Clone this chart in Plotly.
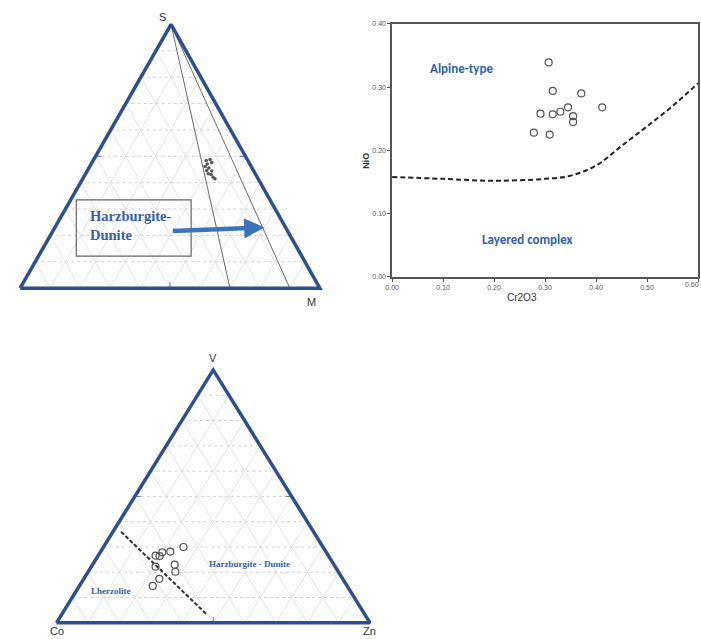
import plotly.graph_objects as go

# ---------------- data ----------------
# S-M ternary: percentages of the S (top) and M (right) components
sm_s = [48.4, 48.8, 47.7, 47.1, 46.1, 45.6, 44.6, 44.4, 43.1, 42.1, 41.5, 43.4]
sm_m = [37.7, 38.8, 39.9, 38.7, 38.5, 40.0, 39.8, 41.6, 42.0, 43.2, 44.1, 40.9]
# reference lines from the S apex to the base (M share of the base)
sm_lines_m = [70, 90]

# NiO vs Cr2O3
cr2o3 = [0.307, 0.315, 0.371, 0.345, 0.412, 0.330, 0.315, 0.291, 0.355, 0.355, 0.278, 0.309]
nio = [0.339, 0.294, 0.290, 0.268, 0.268, 0.261, 0.257, 0.258, 0.254, 0.245, 0.228, 0.225]
# Alpine-type / Layered complex boundary
bound_x = [0.00, 0.10, 0.20, 0.30, 0.35, 0.40, 0.45, 0.50, 0.55, 0.60]
bound_y = [0.158, 0.155, 0.152, 0.155, 0.160, 0.176, 0.207, 0.238, 0.270, 0.306]
x_ticks = [0.0, 0.1, 0.2, 0.3, 0.4, 0.5, 0.6]
y_ticks = [0.0, 0.1, 0.2, 0.3, 0.4]

# Co-V-Zn ternary: V (top) and Zn (right) fractions
cvz_v = [0.300, 0.282, 0.279, 0.266, 0.264, 0.230, 0.222, 0.202, 0.174, 0.146]
cvz_zn = [0.255, 0.222, 0.198, 0.183, 0.197, 0.262, 0.205, 0.278, 0.241, 0.234]
# Lherzolite / Harzburgite-Dunite divide (V, Zn)
div_v = [0.36, 0.035]
div_zn = [0.026, 0.46]

# ---------------- helpers ----------------
TRI_BLUE = "#2f4f8a"
GRID = "#cfcfcf"

# page-pixel frames of the two triangles: (left, right, top) vertices
TRI_SM = ((13.3, 287.3), (316.0, 287.3), (165.7, 20.7))
TRI_CVZ = ((50.0, 625.7), (366.7, 625.7), (208.3, 370.0))


def tern(tri, right, top):
    """Ternary (right, top) fractions -> page coordinates."""
    (ax_, ay_), (bx, by), (cx, cy) = tri
    left = [1 - r - t for r, t in zip(right, top)]
    xs = [l * ax_ + r * bx + t * cx for l, r, t in zip(left, right, top)]
    ys = [l * ay_ + r * by + t * cy for l, r, t in zip(left, right, top)]
    return xs, ys


fig = go.Figure()


def add_triangle(tri):
    # grid at 10 % steps
    for i in range(1, 10):
        f = i / 10
        # constant top fraction (dotted)
        xs, ys = tern(tri, [0, 1 - f], [f, f])
        fig.add_trace(go.Scatter(x=xs, y=ys, mode="lines",
                                 line=dict(color=GRID, width=1, dash="dot"),
                                 hoverinfo="skip", showlegend=False))
        # constant right fraction
        xs, ys = tern(tri, [f, f], [0, 1 - f])
        fig.add_trace(go.Scatter(x=xs, y=ys, mode="lines",
                                 line=dict(color="#dcdcdc", width=0.8),
                                 hoverinfo="skip", showlegend=False))
        # constant left fraction
        xs, ys = tern(tri, [1 - f, 0], [0, 1 - f])
        fig.add_trace(go.Scatter(x=xs, y=ys, mode="lines",
                                 line=dict(color="#dcdcdc", width=0.8),
                                 hoverinfo="skip", showlegend=False))
    # mid-side ticks
    for r, t in [(0.0, 0.5), (0.5, 0.5), (0.5, 0.0)]:
        xs, ys = tern(tri, [r], [t])
        x0, y0 = xs[0], ys[0]
        if t == 0.0:
            seg = ([x0, x0], [y0, y0 - 6])
        elif r == 0.0:
            seg = ([x0, x0 + 6], [y0, y0])
        else:
            seg = ([x0, x0 - 6], [y0, y0])
        fig.add_trace(go.Scatter(x=seg[0], y=seg[1], mode="lines",
                                 line=dict(color="#5a6f95", width=1),
                                 hoverinfo="skip", showlegend=False))


def add_outline(tri):
    xs, ys = tern(tri, [0, 1, 0, 0], [0, 0, 1, 0])
    fig.add_trace(go.Scatter(x=xs, y=ys, mode="lines",
                             line=dict(color=TRI_BLUE, width=3.5),
                             hoverinfo="skip", showlegend=False))


# ---------------- S-M triangle ----------------
add_triangle(TRI_SM)
for m in sm_lines_m:
    xs, ys = tern(TRI_SM, [0, m / 100], [1, 0])
    fig.add_trace(go.Scatter(x=xs, y=ys, mode="lines",
                             line=dict(color="#6b6b6b", width=1),
                             hoverinfo="skip", showlegend=False))
add_outline(TRI_SM)
xs, ys = tern(TRI_SM, [m / 100 for m in sm_m], [s / 100 for s in sm_s])
fig.add_trace(go.Scatter(x=xs, y=ys, mode="markers",
                         marker=dict(size=3.5, color="#555555"),
                         showlegend=False))

# ---------------- Co-V-Zn triangle ----------------
add_triangle(TRI_CVZ)
add_outline(TRI_CVZ)
xs, ys = tern(TRI_CVZ, div_zn, div_v)
fig.add_trace(go.Scatter(x=xs, y=ys, mode="lines",
                         line=dict(color="#333333", width=2, dash="4px,2px"),
                         hoverinfo="skip", showlegend=False))
xs, ys = tern(TRI_CVZ, cvz_zn, cvz_v)
fig.add_trace(go.Scatter(x=xs, y=ys, mode="markers",
                         marker=dict(size=7, color="rgba(0,0,0,0)",
                                     line=dict(color="#555555", width=1.2)),
                         showlegend=False))

# ---------------- NiO vs Cr2O3 ----------------
fig.add_trace(go.Scatter(x=bound_x, y=bound_y, mode="lines", xaxis="x2", yaxis="y2",
                         line=dict(color="#222222", width=2, dash="5px,3px", shape="spline"),
                         hoverinfo="skip", showlegend=False))
fig.add_trace(go.Scatter(x=cr2o3, y=nio, mode="markers", xaxis="x2", yaxis="y2",
                         marker=dict(size=7, color="rgba(0,0,0,0)",
                                     line=dict(color="#555555", width=1.2)),
                         showlegend=False))

W, H = 701, 639
sx0, sx1, sy0, sy1 = 389, 698, 20, 276

tick_font = dict(family="Liberation Sans Narrow, Liberation Sans, Arial",
                 size=7, color="#555555")
ax_common = dict(showgrid=False, zeroline=False, showline=True, mirror=True,
                 linecolor="#555555", linewidth=1.5, ticks="outside", ticklen=3,
                 tickcolor="#555555", tickfont=tick_font)

fig.update_layout(
    width=W, height=H,
    margin=dict(l=0, r=0, t=0, b=0),
    paper_bgcolor="white", plot_bgcolor="rgba(0,0,0,0)",
    xaxis=dict(domain=[0, 1], range=[0, W], visible=False, fixedrange=True),
    yaxis=dict(domain=[0, 1], range=[H, 0], visible=False, fixedrange=True),
    xaxis2=dict(domain=[sx0 / W, sx1 / W], range=[0, 0.6], anchor="y2",
                tickvals=x_ticks, ticktext=[f"{v:.2f}" for v in x_ticks], **ax_common),
    yaxis2=dict(domain=[1 - sy1 / H, 1 - sy0 / H], range=[0, 0.4], anchor="x2",
                tickvals=y_ticks, ticktext=[f"{v:.2f}" for v in y_ticks], **ax_common),
)

sans = "Liberation Sans, Arial, sans-serif"
serif = "Liberation Serif, Times New Roman, serif"
label_blue = "#3461a8"

annotations = [
    # vertex labels
    dict(x=157, y=13, text="S", font=dict(family=sans, size=11, color="#333")),
    dict(x=308, y=301, text="M", font=dict(family=sans, size=11, color="#333")),
    dict(x=208, y=358, text="V", font=dict(family=sans, size=11, color="#333")),
    dict(x=50, y=634, text="Co", font=dict(family=sans, size=11, color="#333")),
    dict(x=366, y=634, text="Zn", font=dict(family=sans, size=11, color="#333")),
    # region labels
    dict(x=82, y=224, text="<b>Harzburgite-<br>Dunite</b>", xanchor="left", align="left",
         font=dict(family=serif, size=14.5, color=label_blue)),
    dict(x=105, y=593, text="<b>Lherzolite</b>",
         font=dict(family=serif, size=9, color=label_blue)),
    dict(x=245, y=566, text="<b>Harzburgite - Dunite</b>",
         font=dict(family=serif, size=9, color=label_blue)),
    # arrow towards the Harzburgite-Dunite field
    dict(x=260, y=226, ax=166, ay=229.5, axref="x", ayref="y", text="",
         showarrow=True, arrowhead=2, arrowsize=0.9, arrowwidth=4.5,
         arrowcolor="#3c74b8"),
    # NiO-Cr2O3 labels
    dict(x=0.137, y=0.329, xref="x2", yref="y2", text="<b>Alpine-type</b>",
         font=dict(family="Carlito, Lato, " + sans, size=13, color=label_blue)),
    dict(x=0.265, y=0.06, xref="x2", yref="y2", text="<b>Layered complex</b>",
         font=dict(family="Carlito, Lato, " + sans, size=13, color=label_blue)),
    # last x tick label, kept inside the page edge
    dict(x=1.0, y=1 - 284 / H, xref="paper", yref="paper", text="0.60",
         xanchor="right", font=tick_font),
    dict(x=363 / W, y=1 - 148 / H, xref="paper", yref="paper", text="<b>NiO</b>",
         textangle=-90, font=dict(family=sans, size=9, color="#333")),
    dict(x=537 / W, y=1 - 297 / H, xref="paper", yref="paper", text="Cr2O3",
         font=dict(family=sans, size=10, color="#333")),
]
for a in annotations:
    a.setdefault("xref", "x")
    a.setdefault("yref", "y")
    a.setdefault("showarrow", False)
fig.update_layout(annotations=annotations)

# frame around the Harzburgite-Dunite caption
fig.add_shape(type="rect", xref="x", yref="y", x0=70, y0=198, x1=186, y1=255,
              line=dict(color="#666666", width=1.2))

fig.write_html("out.html")
